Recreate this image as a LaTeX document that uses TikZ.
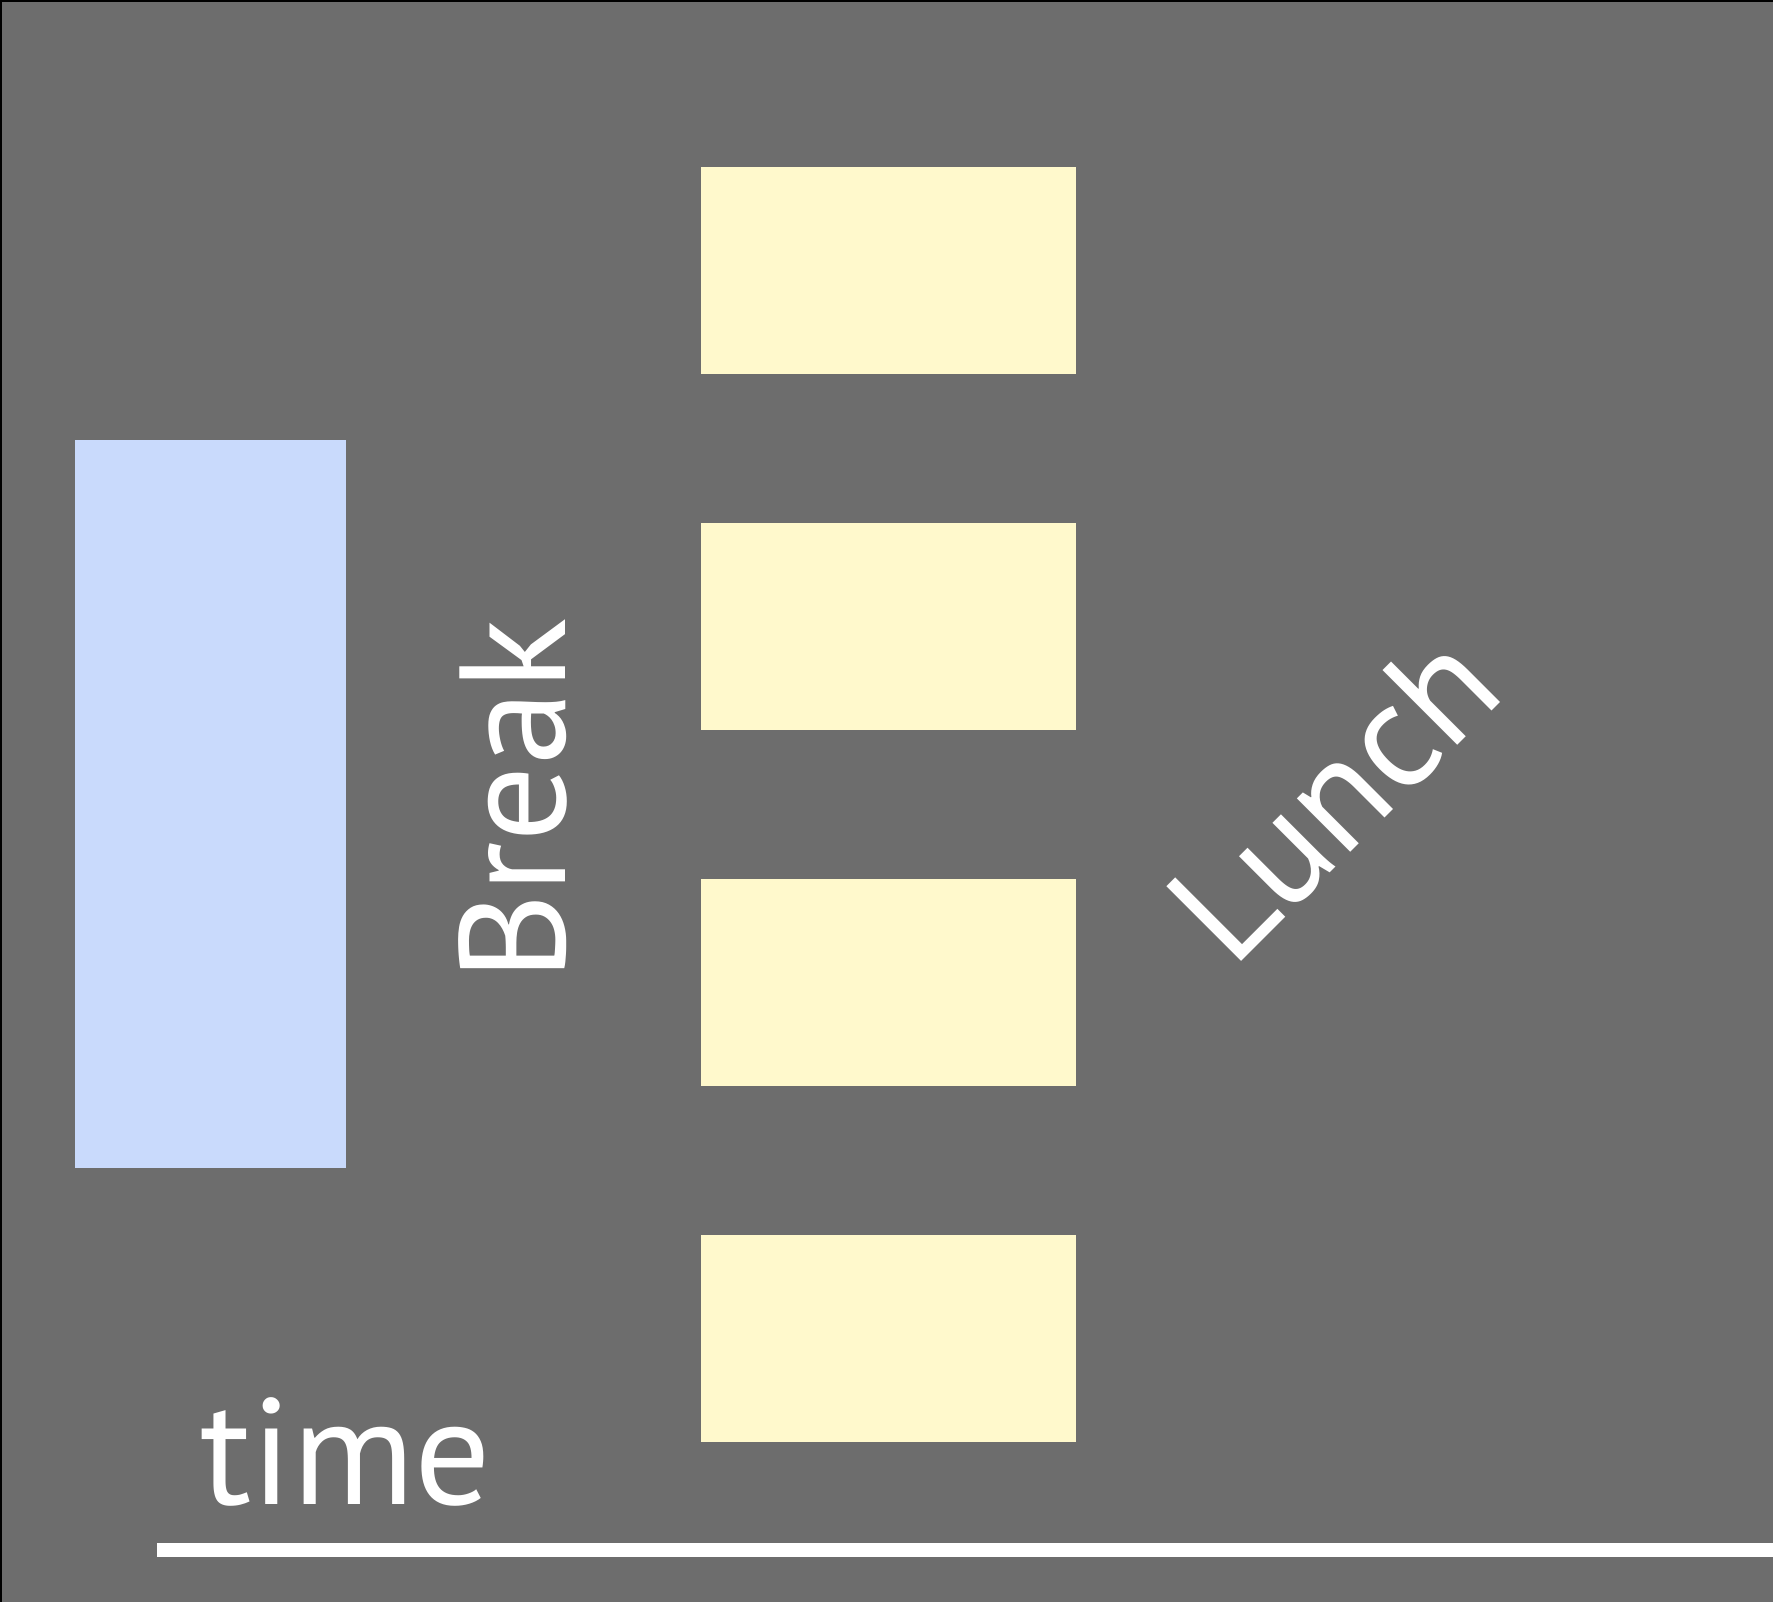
\documentclass[tikz,border=0pt]{standalone}
\usepackage{fontspec}
\setmainfont{PT Sans}
\definecolor{slate}{RGB}{109,109,109}
\definecolor{session}{RGB}{255,249,204}
\definecolor{keynote}{RGB}{201,218,252}
\begin{document}
\begin{tikzpicture}[x=0.5pt,y=-0.5pt,
  block/.style={draw=none,inner sep=0pt,outer sep=0pt,anchor=north west},
  talk/.style={block,fill=session,minimum width=187.5pt,minimum height=103.5pt},
  label/.style={text=white,inner sep=0pt,font=\fontsize{75.5}{80}\selectfont}]
  % canvas with a thin dark frame on the top and left
  \fill[black] (0,0) rectangle (1773,1602);
  \fill[slate] (2,2) rectangle (1773,1602);
  \useasboundingbox (0,0) rectangle (1773,1602);
  % keynote block
  \node[block,fill=keynote,minimum width=135.5pt,minimum height=364pt] (keynote) at (75,440) {};
  % parallel session blocks
  \node[talk] (s1) at (701,167) {};
  \node[talk] (s2) at (701,523) {};
  \node[talk] (s3) at (701,879) {};
  \node[talk] (s4) at (701,1235) {};
  % labels
  \node[label,rotate=90,anchor=base] (break) at (565,800) {Break};
  \node[label,rotate=45,anchor=base] (lunch) at (1370,833) {Lunch};
  \node[label,anchor=base] (time) at (346,1504) {time};
  % time axis
  \coordinate (axisL) at (157,1550);
  \coordinate (axisR) at (1773,1550);
  \draw[white,line width=7pt] (axisL) -- (axisR);
\end{tikzpicture}
\end{document}
